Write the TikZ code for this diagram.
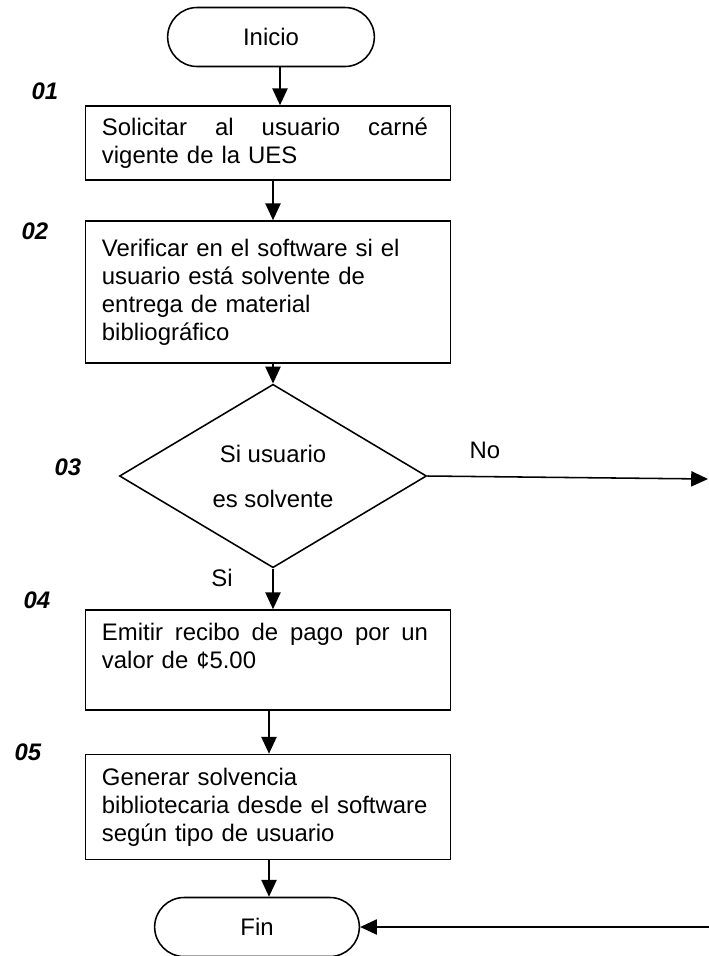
\documentclass[tikz,border=0pt]{standalone}
\usepackage{fontspec}
\setmainfont{Liberation Sans}
\usetikzlibrary{shapes.geometric,shapes.misc,arrows.meta}

\begin{document}
\begin{tikzpicture}[x=0.025cm,y=-0.025cm,line width=1.1pt,
    font=\fontsize{17}{20}\selectfont,
    arr/.style={-{Triangle[length=0.42cm,width=0.38cm]}},
    terminal/.style={draw,rounded rectangle,minimum width=5.4cm,minimum height=1.475cm},
    stepbox/.style={draw,rectangle,text width=8.3cm,inner xsep=0.41cm,align=left},
    decision/.style={draw,diamond,minimum width=7.675cm,minimum height=3.875cm,inner sep=0pt,align=center},
    numlbl/.style={font=\fontsize{17}{20}\selectfont\bfseries\itshape}]
    \useasboundingbox (0,0) rectangle (709,956);
    \hyphenpenalty=10000
    % Inicio
    \node[terminal] (inicio) at (271,37) {Inicio};
    % numeros de paso
    \foreach \n/\x/\y in {01/45/91,02/35/231,03/68/467,04/37/600,05/28/752} {
        \node[numlbl] (num\n) at (\x,\y) {\n};
    }
    % pasos 01 y 02
    \node[stepbox,minimum height=1.85cm] (paso1) at (268,143)
        {\hbox to 8.15cm{Solicitar\hfill al\hfill usuario\hfill carné}\\vigente de la UES};
    \node[stepbox,minimum height=3.55cm] (paso2) at (268,292)
        {Verificar en el software si el\\usuario está solvente de\\entrega de material\\bibliográfico};
    % decision 03
    \node[decision] (dec) at (273,476) {Si usuario\\[12pt]es solvente};
    \node (no) at (485,450) {No};
    \node (si) at (222,578) {Si};
    \coordinate (salida) at (708,479);
    % pasos 04 y 05
    \node[stepbox,minimum height=2.5cm] (paso4) at (268,660)
        {\hbox to 8.15cm{Emitir\hfill recibo\hfill de\hfill pago\hfill por\hfill un}\\valor de ¢5.00\\ \mbox{}};
    \node[stepbox,minimum height=2.625cm] (paso5) at (268,807)
        {Generar solvencia\\bibliotecaria desde el software\\según tipo de usuario};
    % Fin
    \node[terminal,minimum width=5.35cm] (fin) at (257,927) {Fin};
    \coordinate (retorno) at (709,927);
    % flechas
    \draw[arr] (inicio.south -| 280,0) -- (paso1.north -| 280,0);
    \draw[arr] (paso1.south -| dec) -- (paso2.north -| dec);
    \draw[arr] (paso2.south -| dec) -- (dec.north);
    \draw[arr] (dec.east) -- (salida);
    \draw[arr] (dec.south) -- (dec |- paso4.north);
    \draw[arr] (paso4.south -| 269,0) -- (paso5.north -| 269,0);
    \draw[arr] (paso5.south -| 269,0) -- (fin.north -| 269,0);
    \draw[arr] (retorno) -- (fin.east);
\end{tikzpicture}
\end{document}
